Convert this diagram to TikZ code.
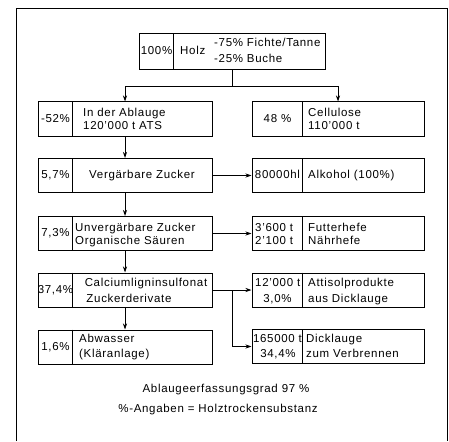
\documentclass[tikz,border=0pt]{standalone}
\usepackage{fontspec}
\setmainfont[LetterSpace=6]{Liberation Sans}
\usetikzlibrary{arrows.meta}
\begin{document}
\begin{tikzpicture}[x=1pt,y=-1pt,
  box/.style={draw,line width=1pt,inner sep=0pt,minimum height=34pt},
  lbox/.style={box,minimum width=174pt},
  rbox/.style={box,minimum width=172pt},
  txt/.style={inner sep=0pt,font=\fontsize{11.5}{13}\selectfont,text height=8pt,text depth=2pt},
  wtxt/.style={txt,anchor=west},
  arr/.style={line width=0.8pt,-{Stealth[length=6pt,width=4pt]}},
  ln/.style={line width=0.8pt},
  div/.style={line width=1pt}]
\useasboundingbox (0,0) rectangle (449,441);
\draw[line width=0.8pt] (16,441) -- (16,8) -- (447,8) -- (447,441);

% top box
\node[box,minimum width=186pt,minimum height=36pt] (top) at (232,52) {};
\draw[div] ([xshift=35pt]top.north west) -- ([xshift=35pt]top.south west);
\node[txt] (t1) at (156.5,52) {100\%};
\node[wtxt] (t2) at (180,52) {Holz};
\node[wtxt] (t3) at (214,44) {-75\% Fichte/Tanne};
\node[wtxt] (t4) at (214,60) {-25\% Buche};

% row 2
\node[lbox] (b2l) at (125,119) {};
\draw[div] ([xshift=35pt]b2l.north west) -- ([xshift=35pt]b2l.south west);
\node[txt] (p2l) at (55.5,119) {-52\%};
\node[wtxt] (a2l) at (83,113.5) {In der Ablauge};
\node[wtxt] (c2l) at (83,126) {120'000 t ATS};
\node[rbox] (b2r) at (338,119) {};
\draw[div] ([xshift=51pt]b2r.north west) -- ([xshift=51pt]b2r.south west);
\node[txt] (p2r) at (277.5,119) {48 \%};
\node[wtxt] (a2r) at (308,113.5) {Cellulose};
\node[wtxt] (c2r) at (308,126) {110'000 t};

% row 3
\node[lbox] (b3l) at (125,175.5) {};
\draw[div] ([xshift=35pt]b3l.north west) -- ([xshift=35pt]b3l.south west);
\node[txt] (p3l) at (55.5,175.5) {5,7\%};
\node[txt] (a3l) at (142,175.5) {Vergärbare Zucker};
\node[rbox] (b3r) at (338,175.5) {};
\draw[div] ([xshift=51pt]b3r.north west) -- ([xshift=51pt]b3r.south west);
\node[txt] (p3r) at (277.5,175.5) {80000hl};
\node[wtxt] (a3r) at (308,175.5) {Alkohol (100\%)};

% row 4
\node[lbox] (b4l) at (125,233.5) {};
\draw[div] ([xshift=35pt]b4l.north west) -- ([xshift=35pt]b4l.south west);
\node[txt] (p4l) at (55.5,233.5) {7,3\%};
\node[wtxt] (a4l) at (75,228) {Unvergärbare Zucker};
\node[wtxt] (c4l) at (75,241) {Organische Säuren};
\node[rbox] (b4r) at (338,233.5) {};
\draw[div] ([xshift=51pt]b4r.north west) -- ([xshift=51pt]b4r.south west);
\node[wtxt] (p4r) at (255,228) {3'600 t};
\node[wtxt] (q4r) at (255,241) {2'100 t};
\node[wtxt] (a4r) at (308,228) {Futterhefe};
\node[wtxt] (c4r) at (308,241) {Nährhefe};

% row 5
\node[lbox] (b5l) at (125,290) {};
\draw[div] ([xshift=35pt]b5l.north west) -- ([xshift=35pt]b5l.south west);
\node[txt] (p5l) at (55.5,290) {37,4\%};
\node[txt] (a5l) at (146,283) {Calciumligninsulfonat};
\node[txt] (c5l) at (129,299) {Zuckerderivate};
\node[rbox] (b5r) at (338,290) {};
\draw[div] ([xshift=51pt]b5r.north west) -- ([xshift=51pt]b5r.south west);
\node[wtxt] (p5r) at (255,283) {12'000 t};
\node[txt] (q5r) at (277.5,299) {3,0\%};
\node[wtxt] (a5r) at (308,283) {Attisolprodukte};
\node[wtxt] (c5r) at (308,299) {aus Dicklauge};

% row 6
\node[lbox] (b6l) at (125,347) {};
\draw[div] ([xshift=35pt]b6l.north west) -- ([xshift=35pt]b6l.south west);
\node[txt] (p6l) at (55.5,347) {1,6\%};
\node[wtxt] (a6l) at (79,339) {Abwasser};
\node[wtxt] (c6l) at (79,354) {(Kläranlage)};
\node[rbox] (b6r) at (338,346.5) {};
\draw[div] ([xshift=51pt]b6r.north west) -- ([xshift=51pt]b6r.south west);
\node[txt] (p6r) at (277.5,339) {165000 t};
\node[txt] (q6r) at (278,354) {34,4\%};
\node[wtxt] (a6r) at (306,339) {Dicklauge};
\node[wtxt] (c6r) at (306,354) {zum Verbrennen};

% footer
\node[txt] (f1) at (226,389) {Ablaugeerfassungsgrad 97 \%};
\node[txt] (f2) at (218,409) {\%-Angaben = Holztrockensubstanz};

% connectors
\coordinate (s) at (232,86);
\draw[ln] (top.south) -- (s);
\draw[arr] (s) -| (b2l.north);
\draw[arr] (s) -| (b2r.north);
\draw[arr] (b2l.south) -- (b3l.north);
\draw[arr] (b3l.south) -- (b4l.north);
\draw[arr] (b4l.south) -- (b5l.north);
\draw[arr] (b5l.south) -- (b6l.north);
\draw[arr] (b3l.east) -- (b3r.west);
\draw[arr] (b4l.east) -- (b4r.west);
\draw[arr] (b5l.east) -- (b5r.west);
\coordinate (j) at (232,290);
\draw[arr] (j) |- (b6r.west);
\end{tikzpicture}
\end{document}
